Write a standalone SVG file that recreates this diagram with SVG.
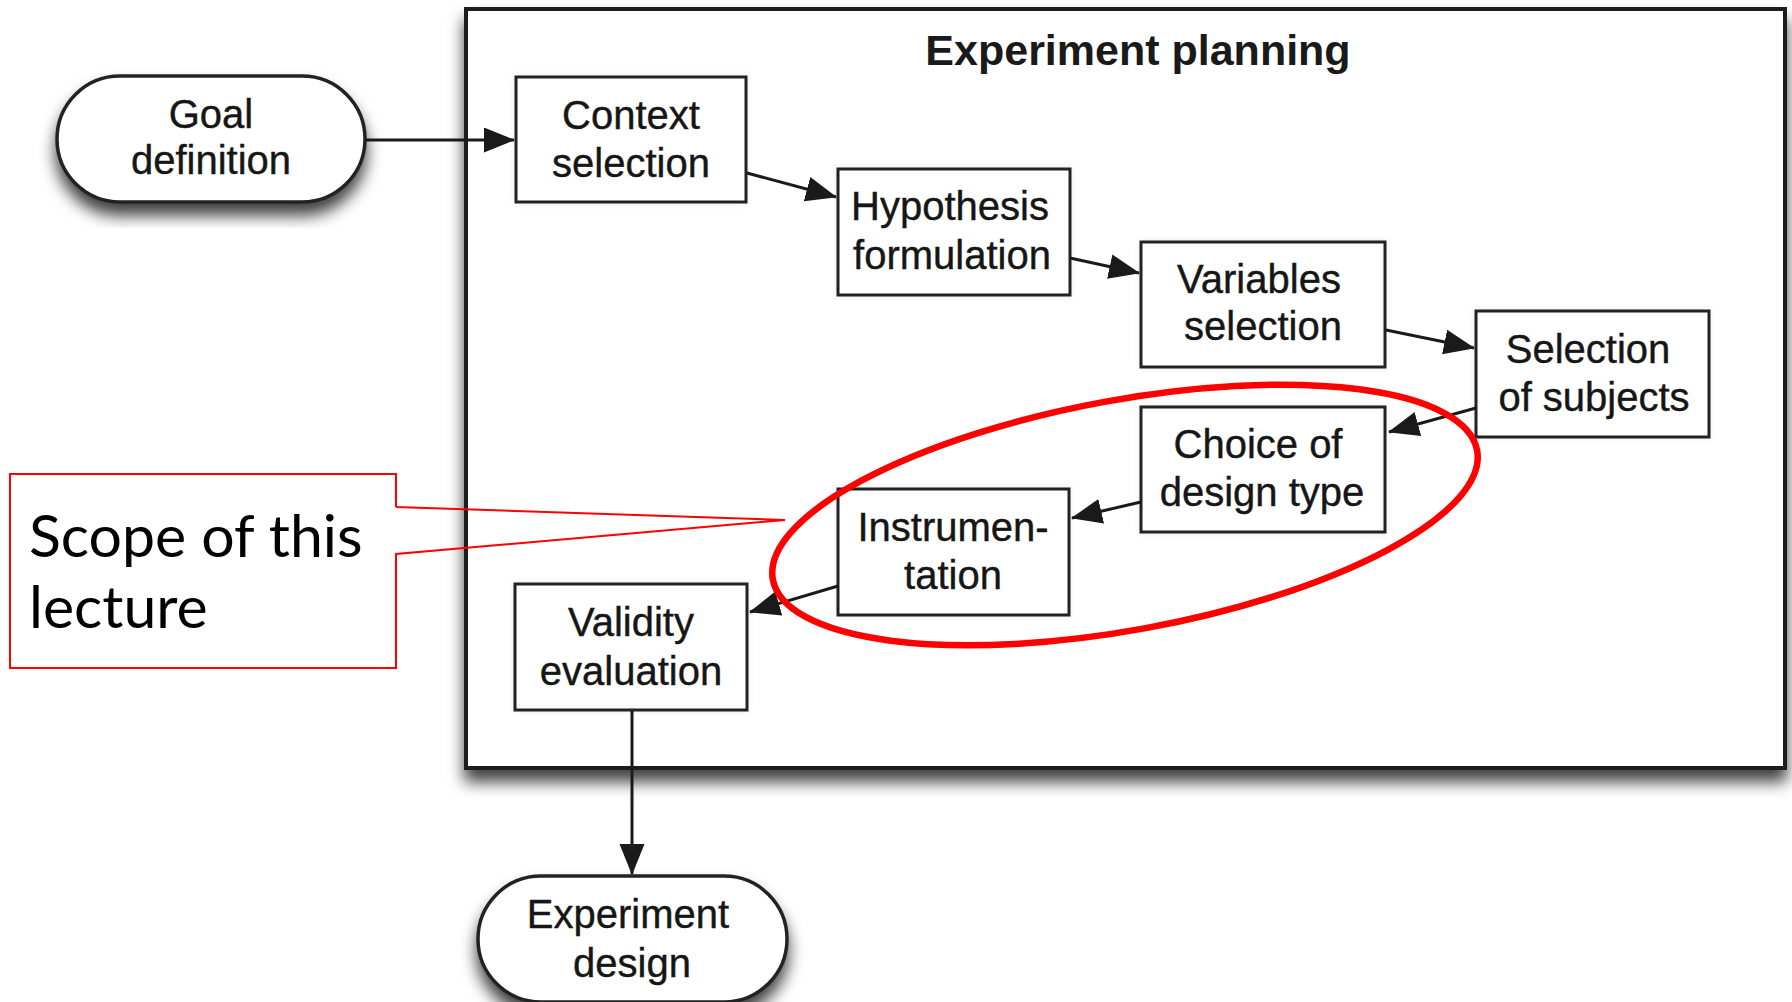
<svg xmlns="http://www.w3.org/2000/svg" width="1792" height="1002" viewBox="0 0 1792 1002">
<defs>
<style>
.box{fill:#fff;stroke:#222;stroke-width:3}
.pill{fill:#fff;stroke:#222;stroke-width:3.5}
.t{font-family:"Liberation Sans",Arial,sans-serif;font-size:40px;fill:#161616;stroke:#161616;stroke-width:0.4;text-anchor:middle}
.title{font-family:"Liberation Sans",Arial,sans-serif;font-size:43px;font-weight:bold;fill:#1a1a1a;text-anchor:middle}
.conn line{stroke:#1a1a1a;stroke-width:3;marker-end:url(#arr)}
.callout{fill:none;stroke:#ff0000;stroke-width:2}
.ct{font-family:Lato,"Liberation Sans",sans-serif;font-size:59px;fill:#000}
</style>
<marker id="arr" markerUnits="userSpaceOnUse" markerWidth="32" markerHeight="26" refX="30" refY="12.5" orient="auto">
<path d="M0,0 L31,12.5 L0,25 z" fill="#1a1a1a"/>
</marker>
<filter id="sh" x="-10%" y="-10%" width="120%" height="130%">
<feDropShadow dx="0" dy="12" stdDeviation="8" flood-color="#000" flood-opacity="0.75"/>
</filter>
<filter id="sh2" x="-10%" y="-10%" width="120%" height="130%">
<feDropShadow dx="0" dy="0" stdDeviation="3" flood-color="#000" flood-opacity="0.08"/>
</filter>
</defs>
<rect width="1792" height="1002" fill="#fff"/>

<g id="frame">
<rect x="466" y="9" width="1319" height="759" fill="#fff" stroke="#1a1a1a" stroke-width="4" filter="url(#sh)"/>
<text class="title" x="1138" y="65">Experiment planning</text>
</g>

<g id="goal">
<rect class="pill" x="57" y="76" width="308" height="126" rx="63" filter="url(#sh)"/>
<text class="t" x="211" y="128">Goal</text>
<text class="t" x="211" y="174">definition</text>
</g>

<g id="context">
<rect class="box" x="516" y="77" width="230" height="125" filter="url(#sh2)"/>
<text class="t" x="631" y="129">Context</text>
<text class="t" x="631" y="177">selection</text>
</g>

<g id="hypothesis">
<rect class="box" x="838" y="169" width="232" height="126" filter="url(#sh2)"/>
<text class="t" x="950" y="220">Hypothesis</text>
<text class="t" x="952" y="269">formulation</text>
</g>

<g id="variables">
<rect class="box" x="1141" y="242" width="244" height="125" filter="url(#sh2)"/>
<text class="t" x="1259" y="293">Variables</text>
<text class="t" x="1263" y="340">selection</text>
</g>

<g id="subjects">
<rect class="box" x="1476" y="311" width="233" height="126" filter="url(#sh2)"/>
<text class="t" x="1588" y="363">Selection</text>
<text class="t" x="1594" y="411">of subjects</text>
</g>

<g id="design-type">
<rect class="box" x="1141" y="407" width="244" height="125" filter="url(#sh2)"/>
<text class="t" x="1258" y="458">Choice of</text>
<text class="t" x="1262" y="506">design type</text>
</g>

<g id="instrumentation">
<rect class="box" x="838" y="489" width="231" height="126" filter="url(#sh2)"/>
<text class="t" x="953" y="541">Instrumen-</text>
<text class="t" x="953" y="589">tation</text>
</g>

<g id="validity">
<rect class="box" x="515" y="584" width="232" height="126" filter="url(#sh2)"/>
<text class="t" x="631" y="636">Validity</text>
<text class="t" x="631" y="685">evaluation</text>
</g>

<g id="experiment-design">
<rect class="pill" x="478" y="876" width="309" height="126" rx="63" filter="url(#sh)"/>
<text class="t" x="628" y="928">Experiment</text>
<text class="t" x="632" y="977">design</text>
</g>

<g id="connectors" class="conn">
<line x1="365" y1="140" x2="514" y2="140"/>
<line x1="747" y1="173" x2="836" y2="197"/>
<line x1="1070" y1="258" x2="1139" y2="273"/>
<line x1="1386" y1="330" x2="1474" y2="348"/>
<line x1="1476" y1="408" x2="1389" y2="432"/>
<line x1="1141" y1="502" x2="1072" y2="518"/>
<line x1="838" y1="586" x2="750" y2="612"/>
<line x1="632" y1="710" x2="632" y2="874"/>
</g>

<g id="scope-ellipse">
<ellipse cx="1125" cy="515" rx="358" ry="115" transform="rotate(-10.4 1125 515)" fill="none" stroke="#ff0000" stroke-width="6.5"/>
</g>

<g id="callout">
<path class="callout" d="M396,507 L396,474 L10,474 L10,668 L396,668 L396,554 L785,520 L396,507"/>
<text class="ct" x="29" y="557">Scope of this</text>
<text class="ct" x="29" y="628">lecture</text>
</g>
</svg>
